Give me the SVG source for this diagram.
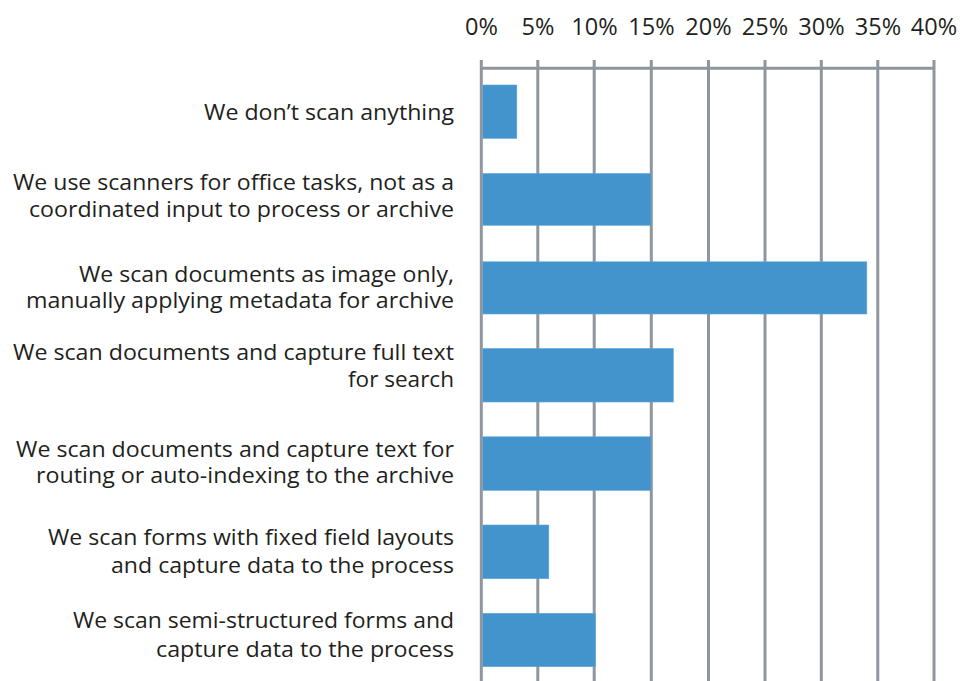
<svg xmlns="http://www.w3.org/2000/svg" width="962" height="681" viewBox="0 0 962 681">
<style>
.grid{stroke:#8f969d;stroke-width:3;fill:none}
.bar{fill:#4394cc;stroke:#5aa6dc;stroke-width:0.6}
.lbl{font-family:"Open Sans","Liberation Sans",sans-serif;font-size:22px;fill:#231f20;text-anchor:end}
.tick{font-family:"Open Sans","Liberation Sans",sans-serif;font-size:23.5px;fill:#231f20;text-anchor:middle}
</style>
<rect width="962" height="681" fill="#ffffff"/>
<g id="axis">
<g id="ticks">
<text class="tick" x="481.5" y="35">0%</text>
<text class="tick" x="538" y="35">5%</text>
<text class="tick" x="594.5" y="35">10%</text>
<text class="tick" x="651.5" y="35">15%</text>
<text class="tick" x="708.5" y="35">20%</text>
<text class="tick" x="765" y="35">25%</text>
<text class="tick" x="821.5" y="35">30%</text>
<text class="tick" x="878" y="35">35%</text>
<text class="tick" x="934" y="35">40%</text>
</g>
<g id="gridlines">
<line class="grid" x1="481.3" y1="68.3" x2="934" y2="68.3"/>
<line class="grid" x1="481.3" y1="60" x2="481.3" y2="681"/>
<line class="grid" x1="537.8" y1="60" x2="537.8" y2="681"/>
<line class="grid" x1="594.2" y1="60" x2="594.2" y2="681"/>
<line class="grid" x1="651.3" y1="60" x2="651.3" y2="681"/>
<line class="grid" x1="708.5" y1="60" x2="708.5" y2="681"/>
<line class="grid" x1="765" y1="60" x2="765" y2="681"/>
<line class="grid" x1="821.3" y1="60" x2="821.3" y2="681"/>
<line class="grid" x1="877.8" y1="60" x2="877.8" y2="681"/>
<line class="grid" x1="934" y1="60" x2="934" y2="681"/>
</g>
</g>
<g id="bars">
<rect class="bar" x="482.8" y="85" width="34" height="53.3"/>
<rect class="bar" x="482.8" y="173.5" width="168.2" height="51.8"/>
<rect class="bar" x="482.8" y="261.8" width="384" height="52.2"/>
<rect class="bar" x="482.8" y="348.5" width="190.5" height="53.5"/>
<rect class="bar" x="482.8" y="436.8" width="168.2" height="53.5"/>
<rect class="bar" x="482.8" y="525" width="66" height="53.7"/>
<rect class="bar" x="482.8" y="613.3" width="112.5" height="53.4"/>
</g>
<g id="labels">
<g id="label1"><text class="lbl" x="454" y="120" textLength="250" lengthAdjust="spacingAndGlyphs">We don’t scan anything</text></g>
<g id="label2">
<text class="lbl" x="454" y="190" textLength="441" lengthAdjust="spacingAndGlyphs">We use scanners for office tasks, not as a</text>
<text class="lbl" x="454" y="216.7" textLength="425" lengthAdjust="spacingAndGlyphs">coordinated input to process or archive</text>
</g>
<g id="label3">
<text class="lbl" x="454" y="281.7" textLength="375" lengthAdjust="spacingAndGlyphs">We scan documents as image only,</text>
<text class="lbl" x="454" y="308" textLength="428" lengthAdjust="spacingAndGlyphs">manually applying metadata  for archive</text>
</g>
<g id="label4">
<text class="lbl" x="454" y="360" textLength="441" lengthAdjust="spacingAndGlyphs">We scan documents and capture full text</text>
<text class="lbl" x="454" y="386.7" textLength="106" lengthAdjust="spacingAndGlyphs">for search</text>
</g>
<g id="label5">
<text class="lbl" x="454" y="456.7" textLength="438" lengthAdjust="spacingAndGlyphs">We scan documents and capture text for</text>
<text class="lbl" x="454" y="483.3" textLength="418" lengthAdjust="spacingAndGlyphs">routing or auto-indexing to the archive</text>
</g>
<g id="label6">
<text class="lbl" x="454" y="545" textLength="406" lengthAdjust="spacingAndGlyphs">We scan forms with fixed field layouts</text>
<text class="lbl" x="454" y="573.3" textLength="343" lengthAdjust="spacingAndGlyphs">and capture data to the process</text>
</g>
<g id="label7">
<text class="lbl" x="454" y="628.3" textLength="381" lengthAdjust="spacingAndGlyphs">We scan semi-structured forms and</text>
<text class="lbl" x="454" y="656.7" textLength="298" lengthAdjust="spacingAndGlyphs">capture data to the process</text>
</g>
</g>
</svg>
